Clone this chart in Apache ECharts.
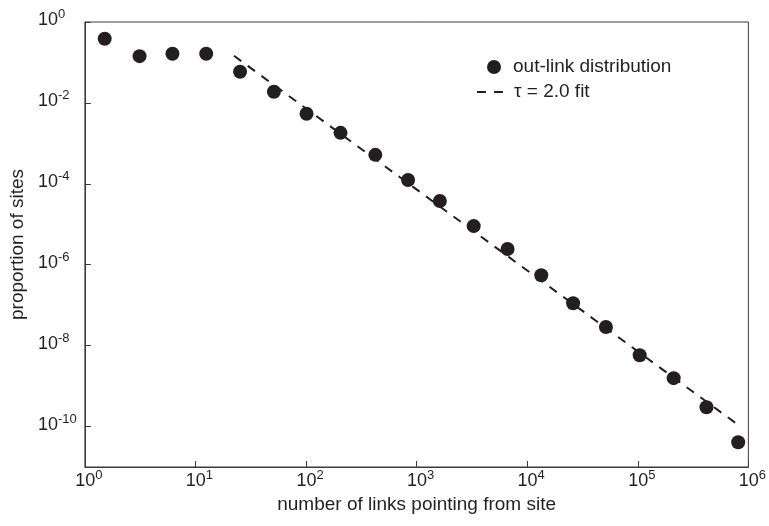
<!DOCTYPE html>
<html>
<head>
<meta charset="utf-8">
<script src="https://cdn.jsdelivr.net/npm/echarts@6/dist/echarts.min.js"></script>
<style>
html,body{margin:0;padding:0;background:#fff;}
#chart{width:769px;height:526px;}
</style>
</head>
<body>
<div id="chart"></div>
<script>
// number of links (bin centres) and proportion of sites
const linksX = [1.51, 3.12, 6.19, 12.5, 25.3, 51.2, 101, 205, 423, 837, 1622, 3280, 6640, 13400, 26000, 51500, 104000, 211000, 418000, 809000];
const proportionY = [0.385, 0.143, 0.164, 0.164, 0.0587, 0.0188, 0.0054, 0.00182, 5.2e-4, 1.24e-4, 3.76e-5, 9.0e-6, 2.44e-6, 5.5e-7, 1.12e-7, 2.9e-8, 5.8e-9, 1.57e-9, 3.0e-10, 4.1e-11];
// tau = 2.0 fit line end points
const fitX = [22.3, 827000];
const fitY = [0.146, 1.05e-10];
// axis tick values
const xTickValues = [1, 10, 100, 1000, 10000, 100000, 1000000];
const yTickValues = [1, 1e-2, 1e-4, 1e-6, 1e-8, 1e-10];

const FONT = "'Liberation Sans', Arial, Helvetica, sans-serif";
const INK = '#231f20';
const AXIS = '#3a3a3a';

function expLabel(v) {
  const e = Math.round(Math.log10(v));
  return '{b|10}{s|' + e + '}';
}

const chart = echarts.init(document.getElementById('chart'), null, {renderer: 'canvas'});
chart.setOption({
  backgroundColor: '#fff',
  animation: false,
  grid: {left: 82, right: 20, top: 22, bottom: 59, show: true, borderColor: AXIS, borderWidth: 1, containLabel: false},
  legend: [
    {
      data: ['out-link distribution'],
      left: 487, top: 57, orient: 'vertical', padding: 0,
      itemWidth: 14, itemHeight: 14,
      itemStyle: {opacity: 1},
      textStyle: {fontFamily: FONT, fontSize: 19, color: INK, lineHeight: 20, padding: [0, 0, 0, 7]}
    },
    {
      data: ['\u03c4 = 2.0 fit'],
      left: 476, top: 82, orient: 'vertical', padding: 0,
      itemWidth: 27, itemHeight: 14,
      itemStyle: {opacity: 0},
      lineStyle: {color: INK, width: 2, type: [9, 8], opacity: 1},
      textStyle: {fontFamily: FONT, fontSize: 19, color: INK, lineHeight: 20, padding: [0, 0, 0, 5]}
    }
  ],
  xAxis: {
    type: 'log', logBase: 10, min: 1, max: 1000000,
    interval: 1,
    name: 'number of links pointing from site',
    nameLocation: 'middle', nameGap: 23,
    nameTextStyle: {fontFamily: FONT, fontSize: 19, color: INK},
    axisLine: {show: true, lineStyle: {color: AXIS, width: 1}},
    axisTick: {show: true, inside: true, length: 6, lineStyle: {color: AXIS}, customValues: xTickValues},
    minorTick: {show: false},
    splitLine: {show: false},
    axisLabel: {
      customValues: xTickValues,
      margin: 2,
      formatter: expLabel,
      padding: [0, 0, 0, 8],
      rich: {
        b: {fontFamily: FONT, fontSize: 18, color: INK, lineHeight: 24},
        s: {fontFamily: FONT, fontSize: 13, color: INK, lineHeight: 13, verticalAlign: 'top'}
      }
    }
  },
  yAxis: {
    type: 'log', logBase: 10, min: 1e-11, max: 1,
    name: 'proportion of sites',
    nameLocation: 'middle', nameGap: 54,
    nameTextStyle: {fontFamily: FONT, fontSize: 19, color: INK},
    axisLine: {show: true, lineStyle: {color: AXIS, width: 1}},
    axisTick: {show: true, inside: true, length: 6, lineStyle: {color: AXIS}, customValues: yTickValues},
    minorTick: {show: false},
    splitLine: {show: false},
    axisLabel: {
      customValues: yTickValues,
      align: 'left',
      margin: 47,
      formatter: expLabel,
      padding: [0, 0, 4, 0],
      rich: {
        b: {fontFamily: FONT, fontSize: 18, color: INK, lineHeight: 24},
        s: {fontFamily: FONT, fontSize: 13, color: INK, lineHeight: 13, verticalAlign: 'top'}
      }
    }
  },
  series: [
    {
      name: 'out-link distribution',
      type: 'scatter',
      symbol: 'circle',
      symbolSize: 14,
      itemStyle: {color: INK, opacity: 1},
      data: linksX.map((x, i) => [x, proportionY[i]]),
      z: 3
    },
    {
      name: '\u03c4 = 2.0 fit',
      type: 'line',
      symbol: 'none',
      showSymbol: false,
      itemStyle: {color: INK},
      lineStyle: {color: INK, width: 2, type: [9, 8]},
      data: fitX.map((x, i) => [x, fitY[i]]),
      z: 2
    }
  ]
});
</script>
</body>
</html>
